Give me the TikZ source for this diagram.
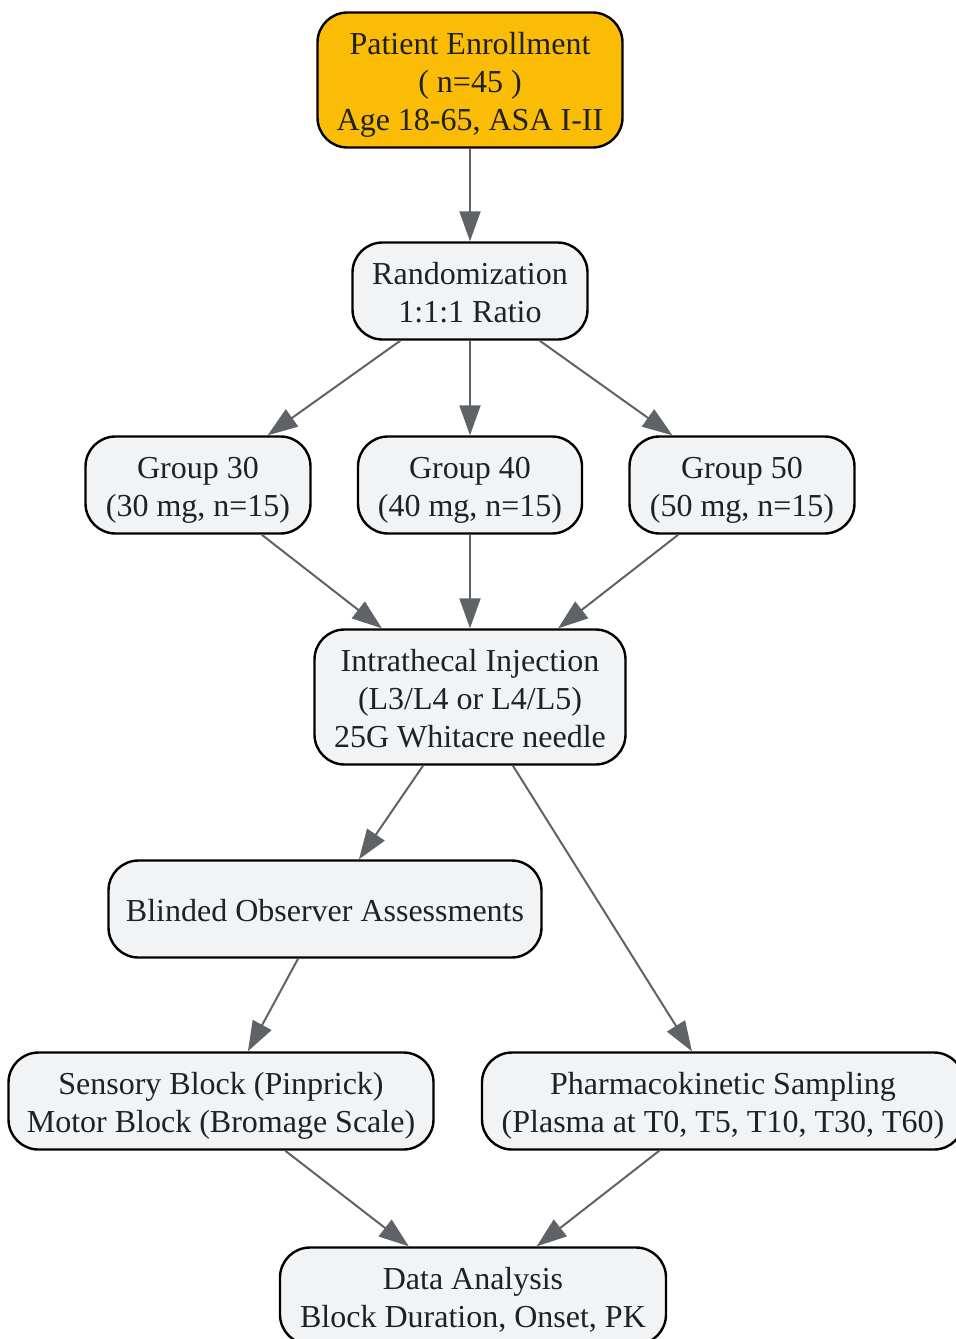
\documentclass[tikz,border=0pt]{standalone}
\usepackage{fontspec}
\setmainfont{Liberation Serif}
\usepackage{tikz}
\usetikzlibrary{arrows.meta, positioning}

\definecolor{enrollfill}{RGB}{251,188,5}
\definecolor{boxfill}{RGB}{241,243,244}
\definecolor{edgegray}{RGB}{95,99,104}
\definecolor{textgray}{RGB}{32,33,36}

\begin{document}
\begin{tikzpicture}[
    x=0.5pt, y=-0.5pt,
    every node/.style={font=\fontsize{16}{19}\selectfont, text=textgray},
    % Rounded study boxes
    box/.style={draw=black, line width=1.2pt, rounded corners=15pt,
                fill=boxfill, align=center, minimum height=48.5pt,
                inner sep=0pt, text depth=0pt},
    oneline/.style={box, text height=12.3pt},
    twoline/.style={box, text height=31.3pt},
    threeline/.style={box, text height=50.3pt, minimum height=67.5pt},
    startbox/.style={threeline, fill=enrollfill},
    % Standard arrow
    arrow/.style={-{Triangle[length=15pt, width=10.5pt]}, edgegray, line width=1pt}
]
\useasboundingbox (0,0) rectangle (956,1339);

% === NODES ===

% Enrollment at top
\node[startbox, minimum width=152.5pt] (enroll) at (470,80)
    {Patient Enrollment\\( n=45 )\\Age 18-65, ASA I-II};

\node[twoline, minimum width=117.5pt] (random) at (470,291)
    {Randomization\\1:1:1 Ratio};

% Dose groups
\node[twoline, minimum width=112.5pt] (group30) at (198,485)
    {Group 30\\(30 mg, n=15)};
\node[twoline, minimum width=112pt] (group40) at (470,485)
    {Group 40\\(40 mg, n=15)};
\node[twoline, minimum width=112.5pt] (group50) at (742,485)
    {Group 50\\(50 mg, n=15)};

\node[threeline, minimum width=155.5pt] (inject) at (470,697)
    {Intrathecal Injection\\(L3/L4 or L4/L5)\\25G Whitacre needle};

% Assessments and sampling
\node[oneline, minimum width=216.5pt] (blind) at (325,909)
    {Blinded Observer Assessments};
\node[twoline, minimum width=212.5pt] (sensory) at (221,1101)
    {Sensory Block (Pinprick)\\Motor Block (Bromage Scale)};
\node[twoline, minimum width=241pt] (pkin) at (723,1101)
    {Pharmacokinetic Sampling\\(Plasma at T0, T5, T10, T30, T60)};

\node[twoline, minimum width=193pt] (analysis) at (473,1296)
    {Data Analysis\\Block Duration, Onset, PK};

% === ARROWS ===
\draw[arrow] (enroll) -- (random);

\draw[arrow] (random) -- (group30);
\draw[arrow] (random) -- (group40);
\draw[arrow] (random) -- (group50);

\draw[arrow] (group30) -- (inject);
\draw[arrow] (group40) -- (inject);
\draw[arrow] (group50) -- (inject);

\draw[arrow] (inject) -- (blind);
\draw[arrow] (inject) -- (pkin);

\draw[arrow] (blind) -- (sensory);

\draw[arrow] (sensory) -- (analysis);
\draw[arrow] (pkin) -- (analysis);

\end{tikzpicture}
\end{document}
